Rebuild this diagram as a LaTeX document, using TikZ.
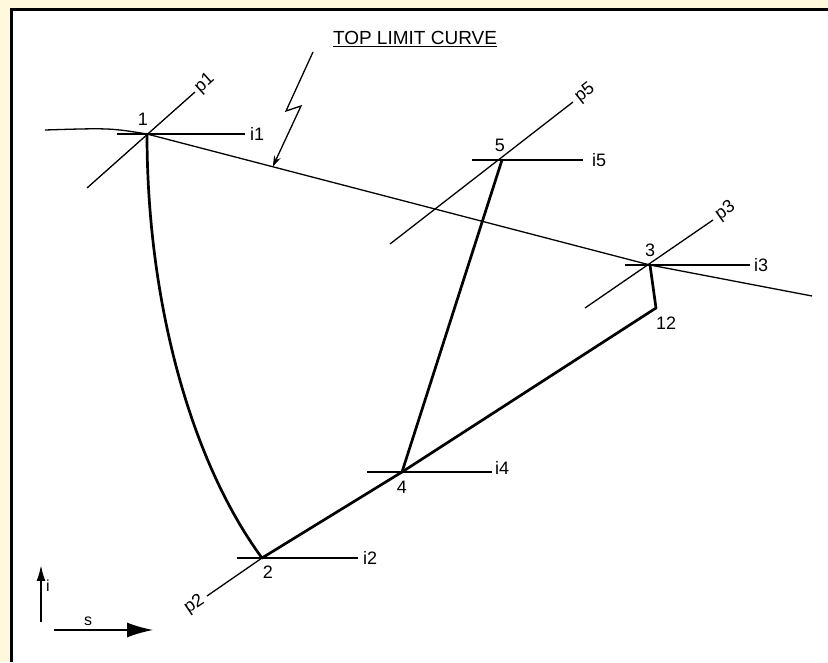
\documentclass[tikz,border=0pt]{standalone}
\usepackage{fontspec}
\setmainfont{Liberation Sans}
\usepackage{tikz}
\usetikzlibrary{arrows.meta, positioning, calc}
\definecolor{pagebg}{HTML}{FFF8DC}

\begin{document}
\begin{tikzpicture}[
    x=1pt, y=1pt,
    process/.style={line width=2.7pt, line cap=round, line join=round},
    isobar/.style={line width=1.3pt},
    pointlbl/.style={inner sep=0pt, font=\fontsize{18}{18}\selectfont},
    linelbl/.style={inner sep=0pt, font=\fontsize{18}{18}\selectfont},
]
% Frame
\useasboundingbox (0,0) rectangle (828,662);
\fill[pagebg] (0,0) rectangle (828,662);
\fill[white] (11.5,0) rectangle (828,652.5);
\draw[line width=3pt] (11.5,0) -- (11.5,652.5) -- (828,652.5);

% State points
\coordinate (s1) at (147,528);
\coordinate (s2) at (262,104);
\coordinate (s3) at (650,397);
\coordinate (s4) at (402,190);
\coordinate (s5) at (502,502);
\coordinate (s12) at (656,354);

% Top limit curve
\coordinate (tl0) at (45,532);
\coordinate (tl9) at (812,366);
\draw[isobar] (tl0) .. controls (110,534) .. (s1) -- coordinate[pos=0.25] (hit) (s3) -- (tl9);
\node (title) [anchor=base, font=\fontsize{19}{19}\selectfont] at (415,617) {\underline{TOP LIMIT CURVE}};
\coordinate (z0) at (313,610);
\coordinate (z1) at (286,551);
\coordinate (z2) at (301,556);
\draw[isobar, -{Stealth[length=11pt,width=7pt]}] (z0) -- (z1) -- (z2) -- (hit);

% Pressure lines
\coordinate (p1a) at (87,474);
\coordinate (p1b) at (195,570);
\coordinate (p5a) at (390,418);
\coordinate (p5b) at (573,560);
\coordinate (p3a) at (585,354);
\coordinate (p3b) at (713,442);
\coordinate (p2a) at (207,66);
\draw[isobar] (p1a) -- (p1b);
\draw[isobar] (p5a) -- (p5b);
\draw[isobar] (p3a) -- (p3b);
\draw[isobar] (p2a) -- (s2);
\node (lp1) [linelbl, rotate=42, anchor=west, inner sep=3pt] at (p1b) {p1};
\node (lp5) [linelbl, rotate=38, anchor=west, inner sep=5pt] at (p5b) {p5};
\node (lp3) [linelbl, rotate=35, anchor=west, inner sep=5pt] at (p3b) {p3};
\node (lp2) [linelbl, rotate=34, anchor=east, inner sep=5pt] at (p2a) {p2};

% Enthalpy lines
\coordinate (i1a) at (117,528);
\coordinate (i1b) at (245,528);
\coordinate (i5a) at (472,502);
\coordinate (i5b) at (583,502);
\coordinate (i3a) at (625,397);
\coordinate (i3b) at (750,397);
\coordinate (i4a) at (367,190);
\coordinate (i4b) at (492,190);
\coordinate (i2a) at (237,104);
\coordinate (i2b) at (358,104);
\draw[isobar] (i1a) -- (i1b);
\draw[isobar] (i5a) -- (i5b);
\draw[isobar] (i3a) -- (i3b);
\draw[isobar] (i4a) -- (i4b);
\draw[isobar] (i2a) -- (i2b);
\node (li1) [linelbl, right=5pt of i1b] {i1};
\node (li5) [linelbl, right=9pt of i5b] {i5};
\node (li3) [linelbl, right=4pt of i3b] {i3};
\node (li4) [linelbl, right=3pt of i4b, yshift=4pt] {i4};
\node (li2) [linelbl, right=5pt of i2b] {i2};

% Process
\draw[process] (s1) .. controls (147,362) and (190,202) .. (s2);
\draw[process] (s2) -- (s4) -- (s12) -- (s3);
\draw[process] (s4) -- (s5);

% Point labels
\node (l1) [pointlbl, above=8pt of s1, xshift=-4pt] {1};
\node (l5) [pointlbl, above=8pt of s5, xshift=-2pt] {5};
\node (l3) [pointlbl, above=8pt of s3] {3};
\node (l12) [pointlbl, below right=9pt and 0pt of s12] {12};
\node (l4) [pointlbl, below=9pt of s4] {4};
\node (l2) [pointlbl, below=8pt of s2, xshift=6pt] {2};

% Axes
\coordinate (ax0) at (41,40);
\coordinate (ax1) at (41,97);
\coordinate (sx0) at (54,32);
\coordinate (sx1) at (153,32);
\draw[line width=2pt, -{Latex[length=16pt,width=9pt]}] (ax0) -- (ax1);
\draw[line width=1.5pt, -{Latex[length=26pt,width=15pt]}] (sx0) -- (sx1);
\node (li) [linelbl, anchor=west, font=\fontsize{16}{16}\selectfont] at (46,76) {i};
\node (ls) [linelbl, anchor=south, font=\fontsize{16}{16}\selectfont] at (88,36) {s};
\end{tikzpicture}
\end{document}
